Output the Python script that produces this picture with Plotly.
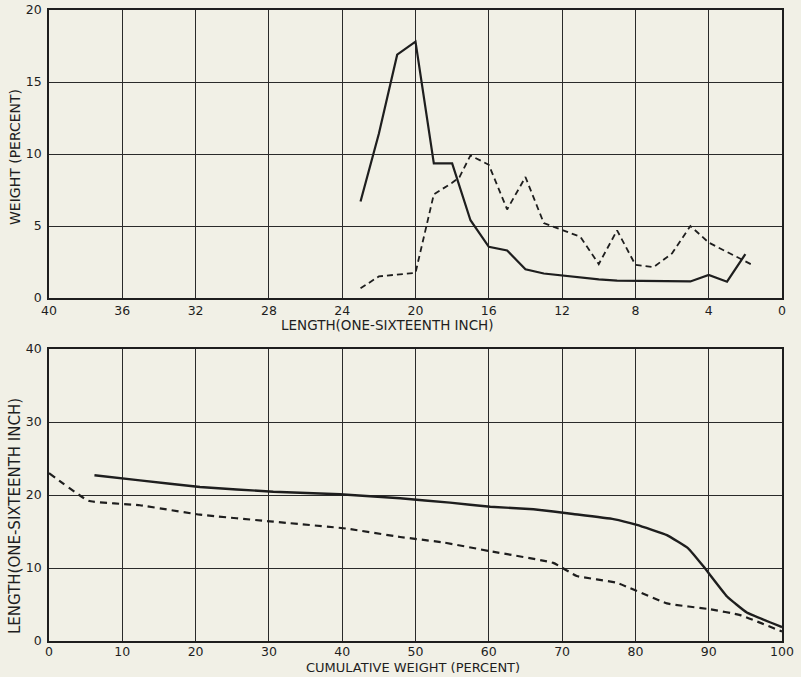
import plotly.graph_objects as go

# Top chart: weight distribution by length (one-sixteenth inch)
solid_len = [23, 22, 21, 20, 19, 18, 17, 16, 15, 14, 13, 12, 11, 10, 9, 8, 7, 6, 5, 4, 3, 2]
solid_wt = [6.7, 11.4, 16.9, 17.8, 9.35, 9.35, 5.4, 3.55, 3.3, 2.0, 1.7, 1.55, 1.4, 1.3, 1.2, 1.2, 1.2, 1.15, 1.15, 1.6, 1.13, 3.05]
dash_len = [23, 22, 20, 19, 18, 17.6, 17, 16, 15, 14, 13, 12, 11, 10, 9, 8, 7, 6, 5, 4, 1.7]
dash_wt = [0.67, 1.5, 1.75, 7.2, 8.0, 8.4, 9.9, 9.25, 6.15, 8.4, 5.2, 4.75, 4.25, 2.35, 4.7, 2.3, 2.15, 3.1, 5.0, 3.85, 2.35]

# Bottom chart: length vs cumulative weight
solid_cum = [6.2, 12.4, 20.6, 30.6, 39.7, 47.9, 54.7, 60.2, 66.1, 71.5, 77.0, 80.2, 84.3, 87.2, 89.3, 92.5, 95.2, 100]
solid_cumlen = [22.7, 22.0, 21.1, 20.45, 20.1, 19.55, 18.95, 18.4, 18.05, 17.4, 16.7, 15.9, 14.5, 12.7, 10.2, 6.1, 3.9, 1.9]
dash_cum = [0, 5.4, 12.4, 20.6, 30.6, 40.6, 47.9, 53.8, 60.2, 68.8, 72.0, 77.4, 84.3, 90.2, 94.3, 100]
dash_cumlen = [23.0, 19.2, 18.6, 17.3, 16.35, 15.4, 14.25, 13.5, 12.3, 10.7, 8.9, 8.0, 5.15, 4.35, 3.55, 1.3]

top_xticks = [40, 36, 32, 28, 24, 20, 16, 12, 8, 4, 0]
top_yticks = [0, 5, 10, 15, 20]
bot_xticks = [0, 10, 20, 30, 40, 50, 60, 70, 80, 90, 100]
bot_yticks = [0, 10, 20, 30, 40]

top_xtitle = "LENGTH(ONE-SIXTEENTH INCH)"
top_ytitle = "WEIGHT (PERCENT)"
bot_xtitle = "CUMULATIVE WEIGHT (PERCENT)"
bot_ytitle = "LENGTH(ONE-SIXTEENTH INCH)"

INK = "#1e1e1e"
BG = "#f1f0e6"
FAM = "DejaVu Sans"

W, H = 801, 677
ML, MR, MT, MB = 49, 19, 10, 36
PH = H - MT - MB  # plot height in px


def py(px):
    """pixel y (from top) -> paper y"""
    return (H - MB - px) / PH


def px_(x):
    return (x - ML) / (W - ML - MR)


fig = go.Figure()
fig.add_trace(go.Scatter(x=solid_len, y=solid_wt, mode="lines",
                         line=dict(color=INK, width=2.2), xaxis="x", yaxis="y"))
fig.add_trace(go.Scatter(x=dash_len, y=dash_wt, mode="lines",
                         line=dict(color=INK, width=1.8, dash="6px,4px"), xaxis="x", yaxis="y"))
fig.add_trace(go.Scatter(x=solid_cum, y=solid_cumlen, mode="lines",
                         line=dict(color=INK, width=2.4, shape="spline", smoothing=0.3), xaxis="x2", yaxis="y2"))
fig.add_trace(go.Scatter(x=dash_cum, y=dash_cumlen, mode="lines",
                         line=dict(color=INK, width=2.2, dash="7px,5px", shape="spline", smoothing=0.3), xaxis="x2", yaxis="y2"))

axis_common = dict(showgrid=True, gridcolor="#2a2a2a", gridwidth=1, showline=True,
                   linecolor=INK, linewidth=1.5, mirror=True, zeroline=False, automargin=False,
                   ticks="", tickfont=dict(family=FAM, size=12.5, color=INK))

fig.update_layout(
    width=W, height=H,
    margin=dict(l=ML, r=MR, t=MT, b=MB, autoexpand=False),
    paper_bgcolor=BG, plot_bgcolor=BG,
    showlegend=False,
    font=dict(family=FAM, size=13, color=INK),
    xaxis=dict(axis_common, domain=[0, 1], anchor="y", range=[40, 0], tickvals=top_xticks,
               ticklabelstandoff=0),
    yaxis=dict(axis_common, domain=[py(298), 1], anchor="x", range=[0, 20], tickvals=top_yticks,
               ticklabelstandoff=3),
    xaxis2=dict(axis_common, domain=[0, 1], anchor="y2", range=[0, 100], tickvals=bot_xticks,
                ticklabelstandoff=-2),
    yaxis2=dict(axis_common, domain=[0, py(349)], anchor="x2", range=[0, 40], tickvals=bot_yticks,
                ticklabelstandoff=3),
)

ann = dict(xref="paper", yref="paper", showarrow=False, font=dict(family=FAM, size=13.5, color=INK))
fig.add_annotation(ann, text=top_xtitle, x=px_(387), y=py(325), xanchor="center", yanchor="middle")
fig.add_annotation(ann, text=bot_xtitle, x=px_(413), y=py(667.5), xanchor="center", yanchor="middle",
                   font=dict(family=FAM, size=13, color=INK))
fig.add_annotation(ann, text=top_ytitle, x=px_(15), y=py(157), xanchor="center", yanchor="middle",
                   textangle=-90, font=dict(family=FAM, size=14, color=INK))
fig.add_annotation(ann, text=bot_ytitle, x=px_(15), y=py(516), xanchor="center", yanchor="middle",
                   textangle=-90, font=dict(family=FAM, size=15, color=INK))

fig.write_html("out.html", config={"displayModeBar": False},
               post_script="document.body.style.margin='0';document.body.style.padding='0';"
                           "document.body.style.overflow='hidden';")
